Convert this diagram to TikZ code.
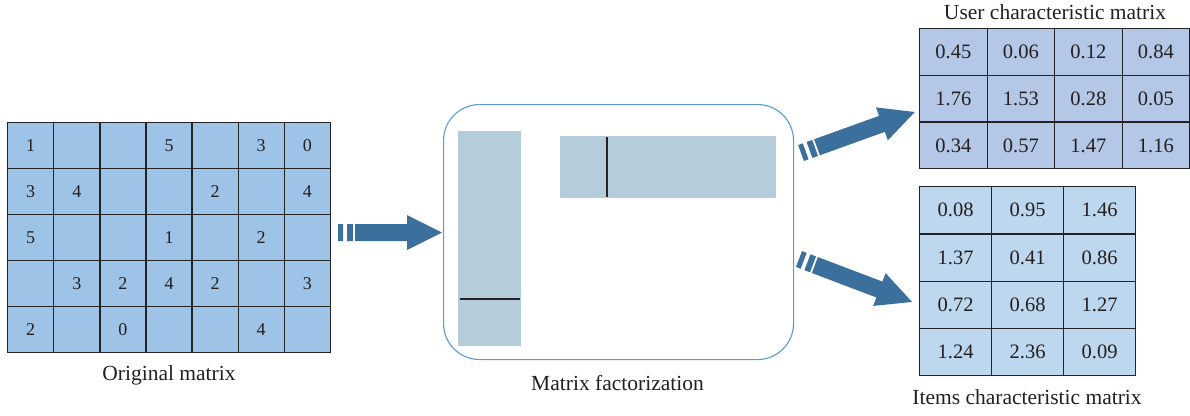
\documentclass[tikz,border=0pt]{standalone}
\usepackage{fontspec}
\setmainfont{Liberation Serif}
\definecolor{origfill}{RGB}{157,195,230}
\definecolor{userfill}{RGB}{180,199,231}
\definecolor{itemfill}{RGB}{189,215,238}
\definecolor{factfill}{RGB}{181,205,218}
\definecolor{arrowc}{RGB}{58,112,155}
\definecolor{boxc}{RGB}{91,155,213}
\definecolor{gridc}{RGB}{35,35,35}
\definecolor{textc}{RGB}{35,31,32}
\newcommand\myblockarrow[3]{%
  \begin{scope}[shift={#1}, rotate=#2]
    \fill[arrowc] (0,-8.5) rectangle (5,8.5) (9,-8.5) rectangle (15,8.5);
    \fill[arrowc] (17,-8.5) -- ({#3-35},-8.5) -- ({#3-35},-17.5) -- (#3,0)
      -- ({#3-35},17.5) -- ({#3-35},8.5) -- (17,8.5) -- cycle;
  \end{scope}}
\begin{document}
\begin{tikzpicture}[x=1pt,y=-1pt,
  cellbase/.style={draw=gridc, line width=1.3pt, inner sep=0pt, anchor=north west, text=textc},
  ocell/.style={cellbase, fill=origfill, minimum width=46.1pt, minimum height=46pt, font=\fontsize{18}{18}\selectfont},
  ucell/.style={cellbase, fill=userfill, minimum width=67.5pt, minimum height=46.7pt, font=\fontsize{20.5}{20.5}\selectfont},
  icell/.style={cellbase, fill=itemfill, minimum width=72pt, minimum height=47.25pt, font=\fontsize{20.5}{20.5}\selectfont},
  caption/.style={anchor=base, text=textc, font=\fontsize{21.5}{21.5}\selectfont, inner sep=0pt},
  factrect/.style={fill=factfill, draw=none}
]
\useasboundingbox (0,0) rectangle (1190,415);

% original matrix
\foreach \row [count=\r] in {{1,{},{},5,{},3,0},{3,4,{},{},2,{},4},{5,{},{},1,{},2,{}},{{},3,2,4,2,{},3},{2,{},0,{},{},4,{}}}{
  \foreach \v [count=\c] in \row {
    \node[ocell] (o-\r-\c) at ({7+(\c-1)*46.1},{122+(\r-1)*46}) {\v};
  }
}
\node[caption] (olabel) at (169,380.5) {Original matrix};

% user matrix
\foreach \row [count=\r] in {{0.45,0.06,0.12,0.84},{1.76,1.53,0.28,0.05},{0.34,0.57,1.47,1.16}}{
  \foreach \v [count=\c] in \row {
    \node[ucell] (u-\r-\c) at ({919+(\c-1)*67.5},{28+(\r-1)*46.7}) {\v};
  }
}
\node[caption] (ulabel) at (1055,19) {User characteristic matrix};

% items matrix
\foreach \row [count=\r] in {{0.08,0.95,1.46},{1.37,0.41,0.86},{0.72,0.68,1.27},{1.24,2.36,0.09}}{
  \foreach \v [count=\c] in \row {
    \node[icell] (i-\r-\c) at ({919+(\c-1)*72},{186+(\r-1)*47.25}) {\v};
  }
}
\node[caption] (ilabel) at (1027,404) {Items characteristic matrix};

% factorization box
\node[draw=boxc, line width=1.1pt, rounded corners=36pt, minimum width=350pt, minimum height=255pt, anchor=north west, inner sep=0pt] (fbox) at (443,104) {};
\node[factrect, minimum width=63pt, minimum height=215pt, anchor=north west, inner sep=0pt] (pmat) at (458,131) {};
\node[factrect, minimum width=215.5pt, minimum height=62.5pt, anchor=north west, inner sep=0pt] (qmat) at (560,135.5) {};
\draw[gridc, line width=1.1pt] (460,299) -- (520,299);
\draw[gridc, line width=1.1pt] (607,137) -- (607,197);
\node[caption] (flabel) at (617.5,390) {Matrix factorization};

% arrows
\myblockarrow{(338,232.5)}{0}{104}
\myblockarrow{(801,153)}{19.8}{121}
\myblockarrow{(799,259)}{-20.8}{121}
\end{tikzpicture}
\end{document}
